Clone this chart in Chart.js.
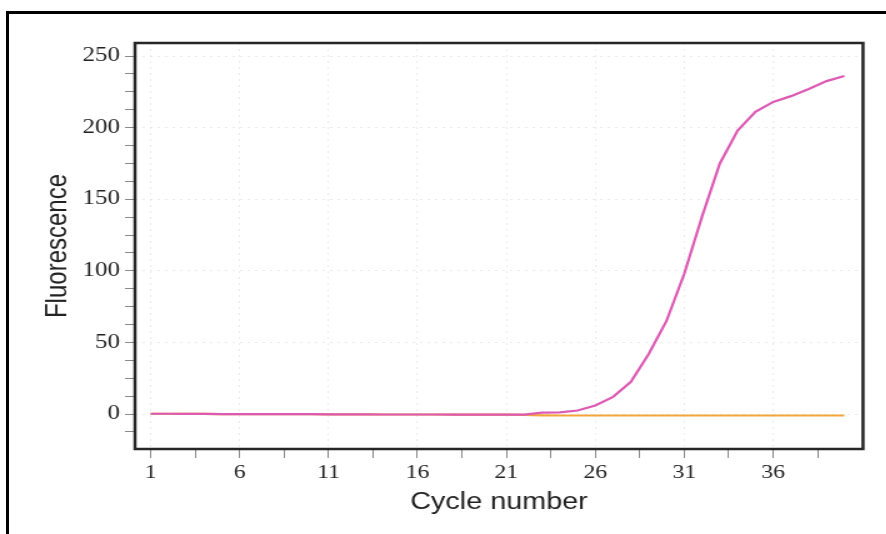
<!DOCTYPE html>
<html>
<head>
<meta charset="utf-8">
<script src="https://cdn.jsdelivr.net/npm/chart.js@4"></script>
<style>
  body { margin: 0; background: #fff; width: 886px; height: 534px; overflow: hidden; position: relative; }
  #frame { position: absolute; left: 6px; top: 11px; width: 900px; height: 600px; border-left: 3px solid #000; border-top: 3px solid #000; }
  #wrap { position: absolute; left: 0; top: 0; width: 709px; height: 534px; transform: scaleX(1.25); transform-origin: 0 0; }
</style>
</head>
<body>
<div id="frame"></div>
<div id="wrap"><canvas id="chart"></canvas></div>
<script>
const cycles = [1,2,3,4,5,6,7,8,9,10,11,12,13,14,15,16,17,18,19,20,21,22,23,24,25,26,27,28,29,30,31,32,33,34,35,36,37,38,39,40];
const sample = [0.2,0.2,0.1,0.1,0,0,0,-0.1,-0.1,-0.1,-0.2,-0.2,-0.2,-0.3,-0.3,-0.3,-0.3,-0.4,-0.4,-0.4,-0.4,-0.4,1.0,1.2,2.5,6,12,22.5,42,65,98,138,175,198,211,218,222,227,232.5,236];
const control = [0.2,0.2,0.1,0.1,0,0,0,-0.1,-0.1,-0.1,-0.2,-0.2,-0.2,-0.3,-0.3,-0.3,-0.3,-0.4,-0.4,-0.4,-0.4,-0.6,-0.9,-1,-1,-1,-1,-1,-1,-1,-1,-1,-1,-1,-1,-1,-1,-1,-1,-1];
const xTicks = [1,3.5,6,8.5,11,13.5,16,18.5,21,23.5,26,28.5,31,33.5,36,38.5];
const yTicks = [-12.5,0,12.5,25,37.5,50,62.5,75,87.5,100,112.5,125,137.5,150,162.5,175,187.5,200,212.5,225,237.5,250];

const pts = vals => cycles.map((c, i) => ({x: c, y: vals[i]}));

const plotFrame = {
  id: "plotFrame",
  afterDatasetsDraw(chart) {
    const a = chart.chartArea, ctx = chart.ctx;
    ctx.save();
    ctx.strokeStyle = "#262626";
    ctx.lineWidth = 2.5;
    ctx.strokeRect(a.left, a.top, a.right - a.left, a.bottom - a.top);
    ctx.restore();
  }
};

new Chart("chart", {
  type: "line",
  data: {
    datasets: [
      {
        label: "sample",
        data: pts(sample),
        borderColor: "#dc5ab4",
        borderWidth: 2.2,
        pointRadius: 0,
        tension: 0,
        fill: false
      },
      {
        label: "control",
        data: pts(control),
        borderColor: "#f2a63a",
        borderWidth: 2.2,
        pointRadius: 0,
        tension: 0,
        fill: false
      }
    ]
  },
  options: {
    responsive: true,
    maintainAspectRatio: false,
    animation: false,
    layout: { padding: { top: 43, right: 18.6, left: 0, bottom: 0 } },
    plugins: { legend: { display: false }, tooltip: { enabled: false } },
    scales: {
      x: {
        type: "linear",
        min: 0.12,
        max: 41.05,
        afterBuildTicks: axis => { axis.ticks = xTicks.map(v => ({value: v})); },
        afterFit: axis => { axis.height = 85; },
        border: { display: false, dash: [2, 4] },
        grid: {
          color: c => Number.isInteger(c.tick.value) ? "rgba(190,190,190,0.3)" : "rgba(0,0,0,0)",
          tickColor: "#888",
          tickLength: 9,
          lineWidth: 1
        },
        ticks: {
          autoSkip: false,
          maxRotation: 0,
          padding: 4,
          color: "#222",
          font: { family: "Liberation Serif", size: 19 },
          callback: v => Number.isInteger(v) ? v : ""
        },
        title: {
          display: true,
          text: "Cycle number",
          color: "#222",
          font: { family: "Liberation Sans", size: 23 },
          padding: { top: 0, bottom: 18 }
        }
      },
      y: {
        min: -24.4,
        max: 259.1,
        afterBuildTicks: axis => { axis.ticks = yTicks.map(v => ({value: v})); },
        afterFit: axis => { axis.width = 108; },
        border: { display: false, dash: [2, 4] },
        grid: {
          color: c => c.tick.value % 50 === 0 ? "rgba(190,190,190,0.3)" : "rgba(0,0,0,0)",
          tickColor: "#888",
          tickLength: 8,
          lineWidth: 1
        },
        ticks: {
          autoSkip: false,
          padding: 4,
          color: "#222",
          font: { family: "Liberation Serif", size: 20 },
          callback: v => v % 50 === 0 ? v : ""
        },
        title: {
          display: true,
          text: "Fluorescence",
          color: "#222",
          font: { family: "Liberation Sans", size: 24 },
          padding: { top: 32, bottom: 0 }
        }
      }
    }
  },
  plugins: [plotFrame]
});
</script>
</body>
</html>
